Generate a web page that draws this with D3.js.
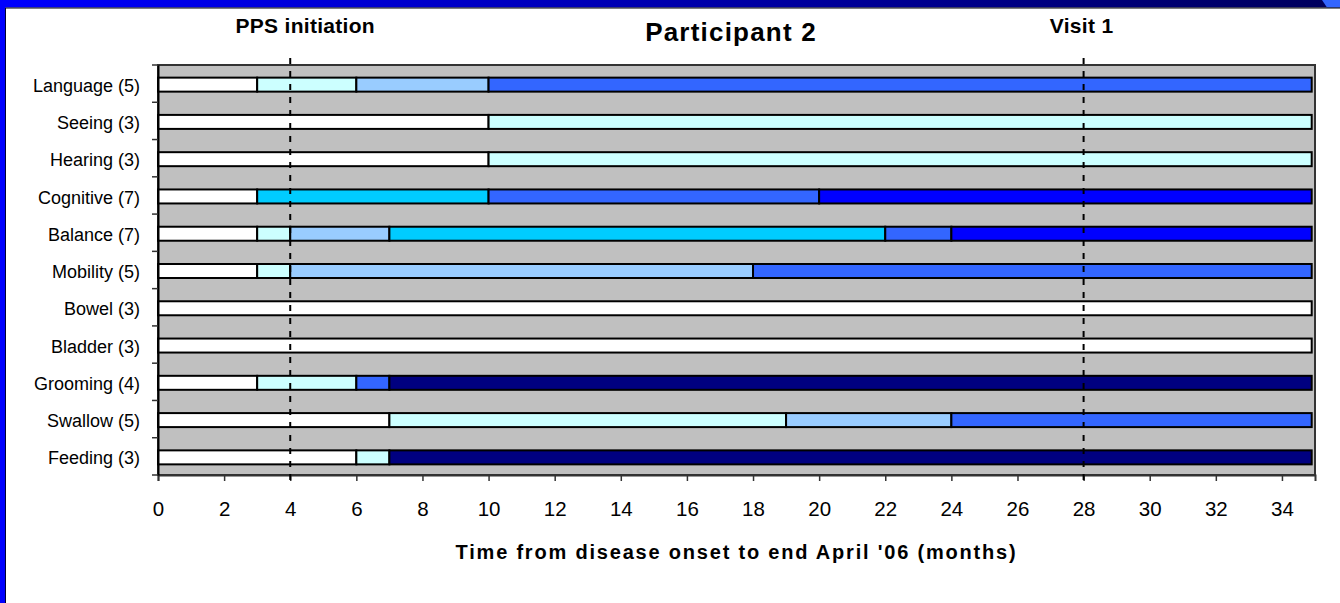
<!DOCTYPE html>
<html>
<head>
<meta charset="utf-8">
<script src="https://cdn.jsdelivr.net/npm/d3@7"></script>
<style>
  body { margin: 0; background: #fff; }
  svg { display: block; font-family: "Liberation Sans", Arial, sans-serif; }
</style>
</head>
<body>
<svg width="1340" height="603"></svg>
<script>
// ~~~~~~ DATA ~~~~~~
var categories = ["Language (5)", "Seeing (3)", "Hearing (3)", "Cognitive (7)", "Balance (7)",
                  "Mobility (5)", "Bowel (3)", "Bladder (3)", "Grooming (4)", "Swallow (5)", "Feeding (3)"];

// each segment: [start month, end month, level]
var segments = [
  [[0, 3, 0], [3, 6, 1], [6, 10, 2], [10, 34.9, 4]],
  [[0, 10, 0], [10, 34.9, 1]],
  [[0, 10, 0], [10, 34.9, 1]],
  [[0, 3, 0], [3, 10, 3], [10, 20, 4], [20, 34.9, 5]],
  [[0, 3, 0], [3, 4, 1], [4, 7, 2], [7, 22, 3], [22, 24, 4], [24, 34.9, 5]],
  [[0, 3, 0], [3, 4, 1], [4, 18, 2], [18, 34.9, 4]],
  [[0, 34.9, 0]],
  [[0, 34.9, 0]],
  [[0, 3, 0], [3, 6, 1], [6, 7, 4], [7, 34.9, 6]],
  [[0, 7, 0], [7, 19, 1], [19, 24, 2], [24, 34.9, 4]],
  [[0, 6, 0], [6, 7, 1], [7, 34.9, 6]]
];

var levelColors = ["#ffffff", "#ccffff", "#99ccff", "#00ccff", "#3366ff", "#0000ff", "#000080"];

var xTicks = d3.range(0, 35, 2);
var markers = [{month: 4, label: "PPS initiation", dx: 15}, {month: 28, label: "Visit 1", dx: -2}];

// ~~~~~~ SVG ~~~~~~
var svg = d3.select("svg");
var plot = {left: 158, right: 1315, top: 65, bottom: 475};

// frame: gradient band on top, blue stripe on the left
var defs = svg.append("defs");
var grad = defs.append("linearGradient").attr("id", "topband");
grad.append("stop").attr("offset", "0%").attr("stop-color", "#0000ff");
grad.append("stop").attr("offset", "100%").attr("stop-color", "#00005c");

svg.append("rect").attr("x", 0).attr("y", 0).attr("width", 1340).attr("height", 7.5)
   .attr("fill", "url(#topband)");
svg.append("path").attr("d", "M1322,0 L1340,0 L1340,7.5 L1327,7.5 Z").attr("fill", "#3366ff");
svg.append("line").attr("x1", 0).attr("x2", 1340).attr("y1", 8).attr("y2", 8)
   .attr("stroke", "#000").attr("stroke-width", 1);
svg.append("rect").attr("x", 0).attr("y", 0).attr("width", 5.5).attr("height", 603)
   .attr("fill", "#0000ff");
svg.append("line").attr("x1", 5.5).attr("x2", 5.5).attr("y1", 8).attr("y2", 603)
   .attr("stroke", "#000033").attr("stroke-width", 1);

// ~~~~~~ SCALES ~~~~~~
var x = d3.scaleLinear().domain([0, 35]).range([plot.left, plot.right]);
var y = d3.scaleBand().domain(categories).range([plot.top, plot.bottom]);
var barH = 14;

// plot background
svg.append("rect")
   .attr("x", plot.left).attr("y", plot.top)
   .attr("width", plot.right - plot.left).attr("height", plot.bottom - plot.top)
   .attr("fill", "#c0c0c0")
   .attr("stroke", "#333").attr("stroke-width", 2);

// bars
var rows = svg.append("g").selectAll("g.row")
   .data(categories)
   .enter().append("g")
   .attr("class", "row")
   .attr("transform", function(d) { return "translate(0," + (y(d) + (y.bandwidth() - barH) / 2 + 1) + ")"; });

rows.selectAll("rect")
   .data(function(d, i) { return segments[i]; })
   .enter().append("rect")
   .attr("x", function(d) { return x(d[0]); })
   .attr("width", function(d) { return x(d[1]) - x(d[0]); })
   .attr("y", 0)
   .attr("height", barH)
   .attr("fill", function(d) { return levelColors[d[2]]; })
   .attr("stroke", "#000")
   .attr("stroke-width", 2);

// x axis
var xAxis = svg.append("g")
   .attr("transform", "translate(0," + plot.bottom + ")")
   .call(d3.axisBottom(x).tickValues(xTicks).tickSize(6).tickPadding(20).tickFormat(d3.format("d")));
xAxis.select(".domain").attr("stroke", "#333").attr("stroke-width", 2);
xAxis.selectAll(".tick line").attr("stroke", "#333").attr("stroke-width", 1.5);
xAxis.selectAll("text").style("font-size", "20.5px").attr("fill", "#000");

// y axis: labels at band centers, tick marks at band boundaries
var yAxis = svg.append("g")
   .attr("transform", "translate(" + plot.left + ",0)")
   .call(d3.axisLeft(y).tickSize(0).tickPadding(18));
yAxis.select(".domain").attr("stroke", "#000").attr("stroke-width", 2);
yAxis.selectAll("text").style("font-size", "18px").attr("fill", "#000").attr("dy", "0.45em");

var bounds = categories.map(function(d) { return y(d); }).concat([plot.bottom]);
svg.append("g").selectAll("line")
   .data(bounds)
   .enter().append("line")
   .attr("x1", plot.left - 6).attr("x2", plot.left)
   .attr("y1", function(d) { return d; }).attr("y2", function(d) { return d; })
   .attr("stroke", "#333").attr("stroke-width", 1.5);

// dashed markers
svg.append("g").selectAll("line")
   .data(markers)
   .enter().append("line")
   .attr("x1", function(d) { return x(d.month); })
   .attr("x2", function(d) { return x(d.month); })
   .attr("y1", 58).attr("y2", 484)
   .attr("stroke", "#000").attr("stroke-width", 2)
   .attr("stroke-dasharray", "6,7");

svg.append("g").selectAll("text")
   .data(markers)
   .enter().append("text")
   .attr("x", function(d) { return x(d.month) + d.dx; })
   .attr("y", 33)
   .attr("text-anchor", "middle")
   .style("font-size", "21px").style("font-weight", "bold")
   .style("letter-spacing", "0.3px")
   .text(function(d) { return d.label; });

// title
svg.append("text")
   .attr("x", 731).attr("y", 41)
   .attr("text-anchor", "middle")
   .style("font-size", "26px").style("font-weight", "bold")
   .style("letter-spacing", "1.2px")
   .text("Participant 2");

// x axis title
svg.append("text")
   .attr("x", (plot.left + plot.right) / 2).attr("y", 559)
   .attr("text-anchor", "middle")
   .style("font-size", "20px").style("font-weight", "bold")
   .style("letter-spacing", "1.8px")
   .text("Time from disease onset to end April '06 (months)");
</script>
</body>
</html>
